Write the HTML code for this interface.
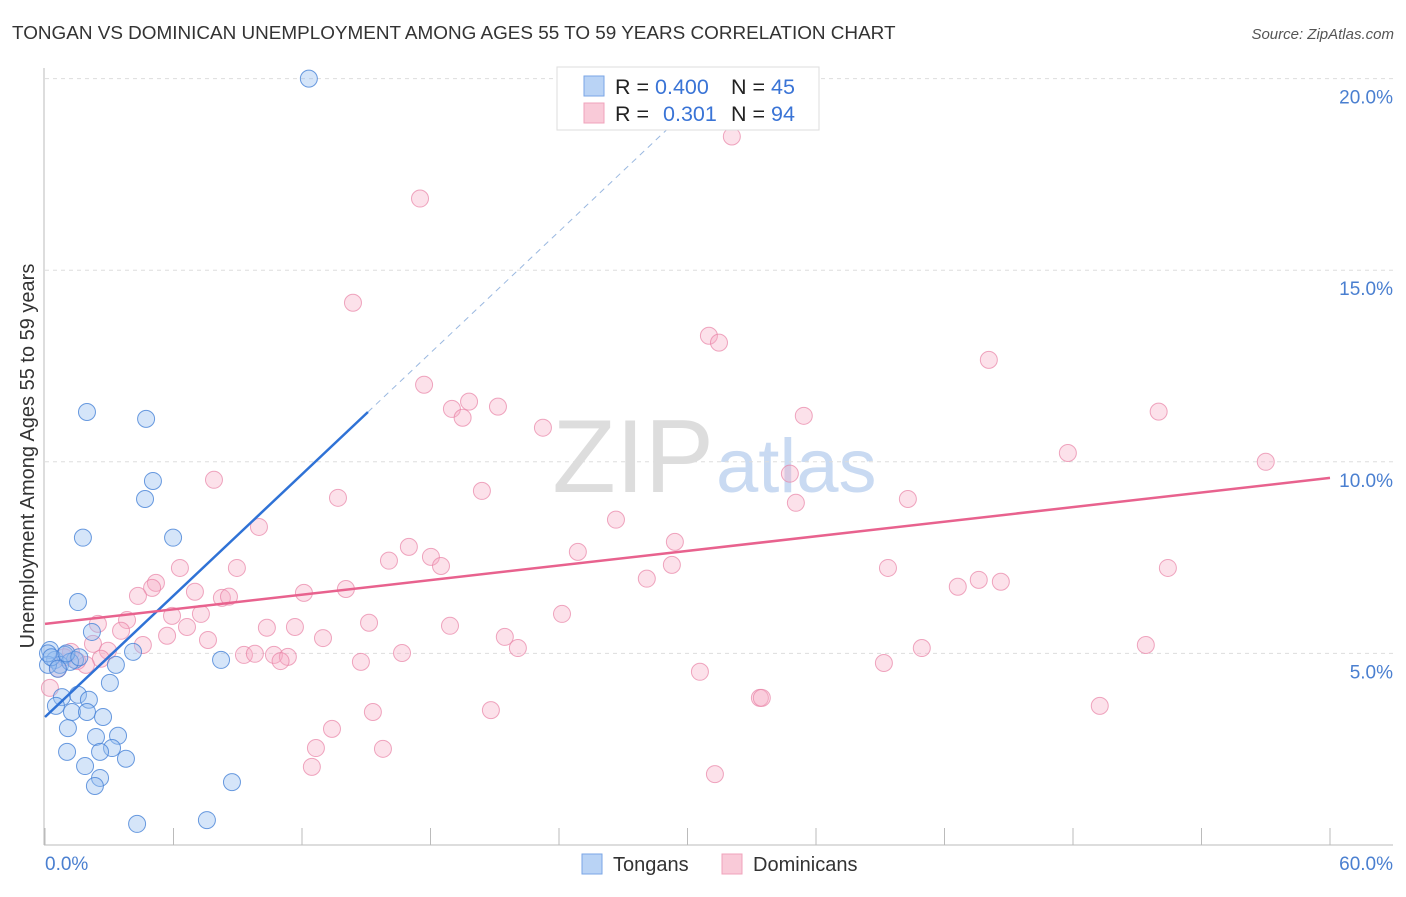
<!DOCTYPE html>
<html><head><meta charset="utf-8"><style>
body{margin:0;background:#fff;font-family:"Liberation Sans",sans-serif;}
svg text{font-family:"Liberation Sans",sans-serif;}
</style></head><body>
<svg id="chart" width="1406" height="892">
<text x="12" y="39" font-size="18.9" fill="#333">TONGAN VS DOMINICAN UNEMPLOYMENT AMONG AGES 55 TO 59 YEARS CORRELATION CHART</text>
<text x="1394" y="39" font-size="15" fill="#555" font-style="italic" text-anchor="end">Source: ZipAtlas.com</text>
<text x="714" y="492" font-size="104" fill="#ddd" text-anchor="end" font-family="Liberation Serif">ZIP</text>
<text x="716" y="492" font-size="76" fill="#c9daf2">atlas</text>
<text transform="translate(34,456) rotate(-90)" font-size="20" fill="#333" text-anchor="middle">Unemployment Among Ages 55 to 59 years</text>
<g id="grid"></g><g id="axes"></g><g id="marks"></g>
<g>
<rect x="557" y="67" width="262" height="63" fill="#fff" stroke="#ddd"/>
<rect x="584" y="76" width="20" height="20" fill="#b9d3f5" stroke="#7aa6e6"/>
<rect x="584" y="103" width="20" height="20" fill="#f9cad8" stroke="#f0a3bb"/>
<text x="615" y="94" font-size="21.5" fill="#222">R = <tspan fill="#3a74d6">0.400</tspan></text>
<text x="731" y="94" font-size="21.5" fill="#222">N = <tspan fill="#3a74d6">45</tspan></text>
<text x="615" y="121" font-size="21.5" fill="#222">R = <tspan fill="#3a74d6" dx="8">0.301</tspan></text>
<text x="731" y="121" font-size="21.5" fill="#222">N = <tspan fill="#3a74d6">94</tspan></text>
</g>
<g>
<rect x="582" y="854" width="20" height="20" fill="#b9d3f5" stroke="#7aa6e6"/>
<text x="613" y="871" font-size="20" fill="#333">Tongans</text>
<rect x="722" y="854" width="20" height="20" fill="#f9cad8" stroke="#f0a3bb"/>
<text x="753" y="871" font-size="20" fill="#333">Dominicans</text>
</g>
</svg>
<script>
const xTicks=[0,6,12,18,24,30,36,42,48,54,60];
const yTicks=[5,10,15,20];
const yTickLabels=["5.0%","10.0%","15.0%","20.0%"];
const tonganX=[12.32,1.96,4.72,5.04,4.67,1.77,5.98,1.54,2.19,4.11,3.31,8.22,0.23,0.47,0.93,1.4,0.7,0.14,1.17,3.03,0.79,1.54,2.05,0.51,1.26,1.96,2.71,1.07,2.38,3.41,3.13,2.57,1.03,3.78,1.87,2.57,2.33,8.73,4.3,7.56,0.14,0.3,1.0,0.6,1.6];
const tonganY=[20.0,11.3,11.12,9.5,9.03,8.02,8.02,6.34,5.56,5.04,4.7,4.83,5.09,4.83,4.96,4.83,4.7,4.7,4.78,4.23,3.86,3.92,3.79,3.63,3.47,3.47,3.34,3.05,2.82,2.85,2.53,2.43,2.43,2.25,2.06,1.75,1.54,1.64,0.55,0.65,5.0,4.9,5.0,4.6,4.9];
const domX=[32.07,17.51,14.38,31.0,31.47,44.07,17.7,19.8,19.0,21.15,19.5,35.43,52.0,23.25,47.76,57.0,7.89,34.78,20.4,13.68,35.06,40.29,26.66,9.99,16.99,29.41,24.88,18.02,16.06,18.49,6.3,8.96,29.27,39.36,52.43,28.1,43.6,42.62,44.63,5.18,5.0,4.34,7.0,12.09,14.05,8.26,8.59,5.93,7.28,24.14,3.83,2.47,15.13,18.91,6.63,10.36,11.67,3.55,5.7,7.61,12.98,21.47,2.24,4.57,22.08,51.4,40.94,2.94,1.21,2.61,9.29,9.8,10.69,11.34,11.0,16.67,14.75,39.17,1.91,0.61,30.58,0.23,33.38,33.47,49.25,15.31,20.82,13.4,12.65,15.78,12.46,31.28,0.9,1.5];
const domY=[18.49,16.87,14.15,13.29,13.11,12.66,12.01,11.57,11.38,11.44,11.15,11.2,11.31,10.89,10.23,10.0,9.53,9.69,9.24,9.06,8.93,9.03,8.49,8.3,7.78,7.91,7.65,7.52,7.42,7.28,7.23,7.23,7.31,7.23,7.23,6.95,6.92,6.74,6.87,6.84,6.71,6.5,6.61,6.58,6.68,6.45,6.48,5.98,6.03,6.03,5.87,5.77,5.8,5.72,5.69,5.67,5.69,5.59,5.46,5.35,5.4,5.43,5.25,5.22,5.14,5.22,5.14,5.07,5.04,4.86,4.96,4.99,4.96,4.91,4.8,5.01,4.78,4.75,4.7,4.6,4.52,4.1,3.84,3.84,3.63,3.47,3.52,3.03,2.53,2.51,2.04,1.85,4.9,4.8];
const tonganTrend=[[0,3.34],[15.08,11.3]];
const tonganTrendExt=[[15.08,11.3],[31.5,19.97]];
const domTrend=[[0,5.77],[60,9.58]];
const NS='http://www.w3.org/2000/svg';
const X=v=>45+v*(1285/60), Y=v=>845-v*38.32;
function mk(tag,attrs,parent){const e=document.createElementNS(NS,tag);for(const k in attrs)e.setAttribute(k,attrs[k]);document.getElementById(parent).appendChild(e);return e;}
yTicks.forEach((t,i)=>{
 const g=mk('line',{x1:45,x2:1393,y1:Y(t),y2:Y(t),stroke:'#ddd','stroke-dasharray':'4,4'},'grid');
 
 
 const l=mk('text',{x:1393,y:Y(t)+25,'font-size':19,fill:'#4a7fd0','text-anchor':'end'},'grid');
 l.textContent=yTickLabels[i];
 
 
});
const ax=mk('line',{x1:44,x2:44,y1:68,y2:845,stroke:'#bbb'},'axes');


const bx=mk('line',{x1:44,x2:1393,y1:845,y2:845,stroke:'#bbb'},'axes');


xTicks.forEach(t=>{
 const k=mk('line',{x1:X(t),x2:X(t),y1:828,y2:845,stroke:'#bbb'},'axes');
 
 
});
const x0=mk('text',{x:45,y:870,'font-size':19,fill:'#4a7fd0'},'axes');x0.textContent=xTicks[0].toFixed(1)+'%';


const x1=mk('text',{x:1393,y:870,'font-size':19,fill:'#4a7fd0','text-anchor':'end'},'axes');x1.textContent=xTicks[xTicks.length-1].toFixed(1)+'%';


domX.forEach((v,i)=>{
 const c=mk('circle',{cx:X(v),cy:Y(domY[i]),r:8.5,fill:'rgba(246,170,195,0.35)',stroke:'rgba(232,130,165,0.7)','stroke-width':1},'marks');
 
 
});
tonganX.forEach((v,i)=>{
 const c=mk('circle',{cx:X(v),cy:Y(tonganY[i]),r:8.5,fill:'rgba(150,190,240,0.4)',stroke:'rgba(70,130,215,0.8)','stroke-width':1},'marks');
 
 
});
const t1=mk('line',{x1:X(tonganTrend[0][0]),y1:Y(tonganTrend[0][1]),x2:X(tonganTrend[1][0]),y2:Y(tonganTrend[1][1]),stroke:'#2f72d6','stroke-width':2.5},'marks');


const t2=mk('line',{x1:X(tonganTrendExt[0][0]),y1:Y(tonganTrendExt[0][1]),x2:X(tonganTrendExt[1][0]),y2:Y(tonganTrendExt[1][1]),stroke:'#9ab8e0','stroke-width':1,'stroke-dasharray':'6,5'},'marks');


const t3=mk('line',{x1:X(domTrend[0][0]),y1:Y(domTrend[0][1]),x2:X(domTrend[1][0]),y2:Y(domTrend[1][1]),stroke:'#e8628e','stroke-width':2.5},'marks');


</script>
</body></html>
